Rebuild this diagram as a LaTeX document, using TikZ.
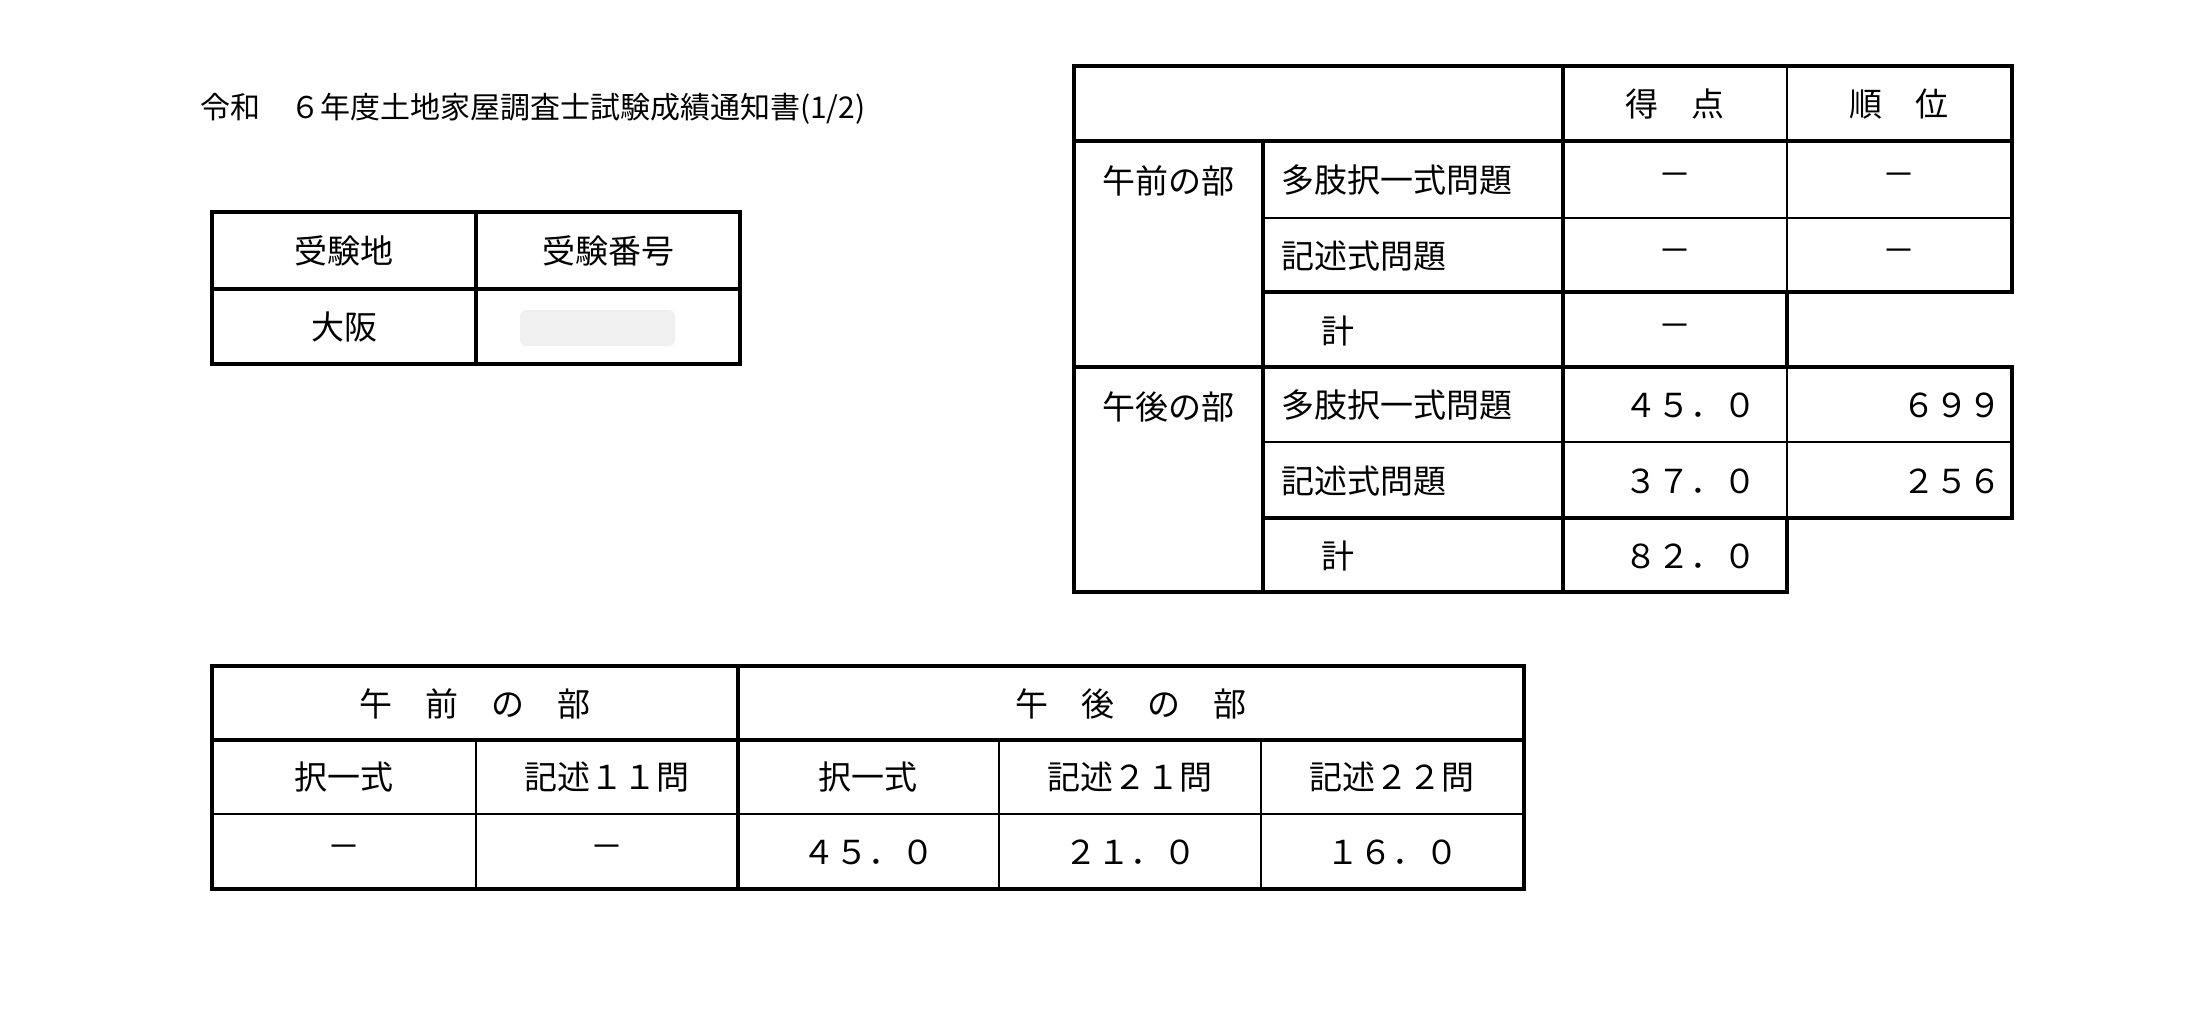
\documentclass[tikz,border=0pt]{standalone}
\usepackage{fontspec}
\setmainfont{Noto Sans CJK JP}
\usetikzlibrary{positioning,calc}
\tikzset{
  thk/.style={line width=4pt},
  thn/.style={line width=1.6pt},
  cell/.style={font=\fontsize{33}{38}\selectfont, inner sep=0pt},
}
\begin{document}
\begin{tikzpicture}[x=1pt,y=-1pt]
            \useasboundingbox (0,0) rectangle (2188,1019);

            % title
            \node[cell, anchor=west, font=\fontsize{30}{36}\selectfont] (title) at (200,109)
            {令和　６年度土地家屋調査士試験成績通知書(1/2)};

            % exam place table
            \draw[thk] (212,212) rectangle (740,364);
            \draw[thk] (212,289) -- (740,289);
            \draw[thk] (476,212) -- (476,364);
            \fill[gray!12, rounded corners=6pt] (520,310) rectangle (675,346);
            \node[cell] (place) at (344,251) {受験地};
            \node[cell] (num) at (608,251) {受験番号};
            \node[cell] (osaka) at (344,327) {大阪};

            % score table
            \draw[thk] (1074,66) -- (2012,66) -- (2012,292) -- (1787,292) -- (1787,367)
                       -- (2012,367) -- (2012,518) -- (1787,518) -- (1787,592) -- (1074,592) -- cycle;
            \draw[thk] (1074,141) -- (2012,141);
            \draw[thk] (1074,367) -- (1787,367);
            \draw[thk] (1263,292) -- (1787,292);
            \draw[thk] (1263,518) -- (1787,518);
            \draw[thk] (1263,141) -- (1263,592);
            \draw[thk] (1563,66) -- (1563,592);
            \draw[thn] (1787,66) -- (1787,292);
            \draw[thn] (1787,367) -- (1787,518);
            \draw[thn] (1263,218) -- (2012,218);
            \draw[thn] (1263,442) -- (2012,442);

            \node[cell] (pts) at (1675,104) {得　点};
            \node[cell] (rank) at (1899,104) {順　位};
            \node[cell, anchor=north] (am) at (1168,165) {午前の部};
            \node[cell, anchor=north] (pm) at (1168,391) {午後の部};
            \node[cell, anchor=west] (amA) at (1281,180) {多肢択一式問題};
            \node[cell, anchor=west] (amB) at (1281,256) {記述式問題};
            \node[cell] (amT) at (1338,331) {計};
            \node[cell, anchor=west] (pmA) at (1281,405) {多肢択一式問題};
            \node[cell, anchor=west] (pmB) at (1281,481) {記述式問題};
            \node[cell] (pmT) at (1338,556) {計};
            \node[cell] (amAp) at (1675,180) {－};
            \node[cell] (amAr) at (1899,180) {－};
            \node[cell] (amBp) at (1675,256) {－};
            \node[cell] (amBr) at (1899,256) {－};
            \node[cell] (amTp) at (1675,331) {－};
            \node[cell] (pmAp) at (1690,405) {４５．０};
            \node[cell, anchor=east] (pmAr) at (2002,405) {６９９};
            \node[cell] (pmBp) at (1690,481) {３７．０};
            \node[cell, anchor=east] (pmBr) at (2002,481) {２５６};
            \node[cell] (pmTp) at (1690,556) {８２．０};

            % detail table
            \draw[thk] (212,666) rectangle (1524,889);
            \draw[thk] (212,740) -- (1524,740);
            \draw[thk] (738,666) -- (738,889);
            \draw[thn] (212,814) -- (1524,814);
            \foreach \x in {476,999,1261}
            \draw[thn] (\x,740) -- (\x,889);

            \node[cell] (hAM) at (475,704) {午　前　の　部};
            \node[cell] (hPM) at (1131,704) {午　後　の　部};
            \node[cell] (c1) at (344,777) {択一式};
            \node[cell] (c2) at (607,777) {記述１１問};
            \node[cell] (c3) at (868,777) {択一式};
            \node[cell] (c4) at (1130,777) {記述２１問};
            \node[cell] (c5) at (1392,777) {記述２２問};
            \node[cell] (v1) at (344,852) {－};
            \node[cell] (v2) at (607,852) {－};
            \node[cell] (v3) at (868,852) {４５．０};
            \node[cell] (v4) at (1130,852) {２１．０};
            \node[cell] (v5) at (1392,852) {１６．０};
        \end{tikzpicture}
\end{document}
